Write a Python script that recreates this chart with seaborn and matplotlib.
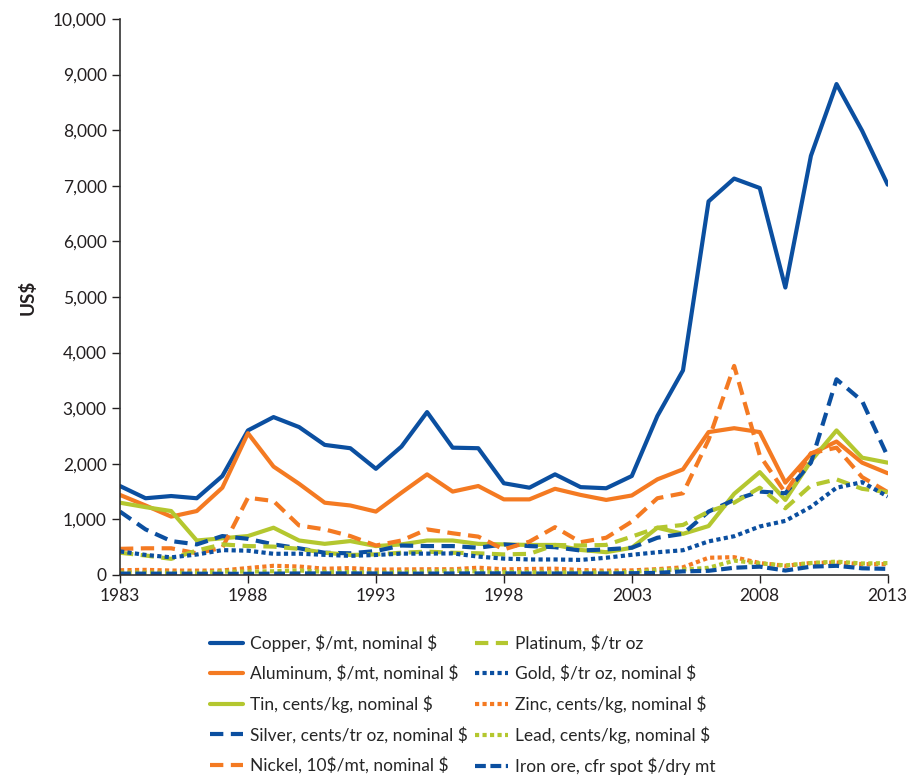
import numpy as np
import pandas as pd
import seaborn as sns
import matplotlib.pyplot as plt
from matplotlib.ticker import FuncFormatter

sns.set_theme(style="ticks")
plt.rcParams['font.family'] = ['Lato', 'DejaVu Sans']

# Años
years = list(range(1983, 2014))

# Series
copper = [1600, 1380, 1420, 1380, 1780, 2600, 2840, 2660, 2340, 2280, 1910, 2310, 2930, 2290, 2280,
          1650, 1570, 1810, 1580, 1560, 1780, 2860, 3680, 6720, 7130, 6960, 5170, 7540, 8830, 7990, 7020]
aluminum = [1440, 1250, 1050, 1150, 1570, 2550, 1950, 1640, 1300, 1250, 1140, 1480, 1810, 1500, 1600,
            1360, 1360, 1550, 1440, 1350, 1430, 1720, 1900, 2570, 2640, 2570, 1660, 2180, 2400, 2020, 1830]
tin = [1300, 1220, 1150, 620, 660, 700, 850, 620, 560, 610, 520, 550, 620, 620, 560,
       550, 540, 540, 450, 410, 490, 850, 740, 880, 1460, 1850, 1350, 2050, 2600, 2110, 2020]
silver = [1140, 820, 610, 550, 700, 650, 550, 480, 400, 390, 430, 530, 520, 520, 490,
          550, 520, 500, 440, 460, 490, 670, 740, 1140, 1350, 1500, 1470, 2020, 3520, 3130, 2130]
nickel = [470, 480, 480, 390, 490, 1390, 1330, 890, 820, 700, 530, 620, 820, 750, 690,
          460, 600, 860, 590, 670, 960, 1380, 1470, 2430, 3760, 2150, 1480, 2190, 2290, 1760, 1490]
platinum = [400, 350, 290, 440, 550, 520, 510, 470, 400, 360, 370, 400, 420, 400, 390,
            370, 380, 540, 530, 540, 690, 850, 900, 1140, 1300, 1570, 1200, 1610, 1720, 1550, 1490]
gold = [424, 361, 317, 368, 447, 437, 381, 383, 362, 344, 360, 384, 384, 388, 331,
        294, 279, 279, 271, 310, 363, 409, 445, 604, 697, 872, 973, 1225, 1569, 1670, 1411]
zinc = [85, 92, 80, 78, 82, 125, 165, 152, 112, 124, 96, 100, 103, 103, 131,
        102, 108, 113, 89, 78, 83, 105, 138, 310, 320, 215, 165, 215, 225, 195, 195]
lead = [43, 44, 39, 41, 60, 61, 67, 81, 56, 54, 41, 55, 63, 77, 62,
        53, 50, 45, 48, 45, 52, 89, 98, 129, 258, 209, 172, 215, 240, 207, 214]
iron_ore = [25, 24, 24, 23, 22, 21, 24, 27, 28, 28, 27, 24, 25, 27, 28,
            29, 26, 27, 28, 27, 31, 38, 65, 75, 130, 150, 80, 150, 165, 120, 110]

labels = [r"Copper, \$/mt, nominal \$", r"Aluminum, \$/mt, nominal \$", r"Tin, cents/kg, nominal \$",
          r"Silver, cents/tr oz, nominal \$", r"Nickel, 10\$/mt, nominal \$", r"Platinum, \$/tr oz",
          r"Gold, \$/tr oz, nominal \$", r"Zinc, cents/kg, nominal \$", r"Lead, cents/kg, nominal \$",
          r"Iron ore, cfr spot \$/dry mt"]
series = [copper, aluminum, tin, silver, nickel, platinum, gold, zinc, lead, iron_ore]

df = pd.DataFrame({
    "year": years * len(labels),
    "value": [v for s in series for v in s],
    "metal": [lab for lab in labels for _ in years],
})

blue = "#0B4FA0"
orange = "#F47A22"
green = "#B4C72F"
palette = dict(zip(labels, [blue, orange, green, blue, orange, green, blue, orange, green, blue]))
solid = ""
dash = (3.2, 1.8)
dot = (1, 0.8)
dashes = dict(zip(labels, [solid, solid, solid, dash, dash, dash, dot, dot, dot, (2.6, 1.1)]))

fig = plt.figure(figsize=(9.18, 7.79), dpi=100)
ax = fig.add_axes([0.1307, 0.2619, 0.8363, 0.7137])

sns.lineplot(data=df, x="year", y="value", hue="metal", style="metal",
             hue_order=labels, style_order=labels, palette=palette, dashes=dashes,
             linewidth=3, ax=ax, legend=True)

ax.set_xlim(1983, 2013)
ax.set_ylim(0, 10000)
ax.set_xticks(range(1983, 2014, 5))
ax.set_yticks(range(0, 10001, 1000))
ax.yaxis.set_major_formatter(FuncFormatter(lambda v, p: f"{int(v):,}"))
ax.set_xlabel("")
ax.set_ylabel(r"US\$", fontsize=13.5, fontweight="bold", color="#231F20", labelpad=12)
ax.tick_params(axis="both", labelsize=12.5, colors="#231F20", length=6, width=1)
for sp in ["left", "bottom"]:
    ax.spines[sp].set_color("#333333")
    ax.spines[sp].set_linewidth(1.2)
sns.despine(ax=ax)

handles, labs = ax.get_legend_handles_labels()
ax.legend(handles, labs, loc="upper left", bbox_to_anchor=(0.229, 0.186),
          bbox_transform=fig.transFigure, ncol=2, frameon=False, fontsize=12.5,
          handlelength=1.9, handletextpad=0.4, columnspacing=0.4, labelspacing=0.78,
          borderaxespad=0, borderpad=0)

fig.savefig("out.png", dpi=100)
